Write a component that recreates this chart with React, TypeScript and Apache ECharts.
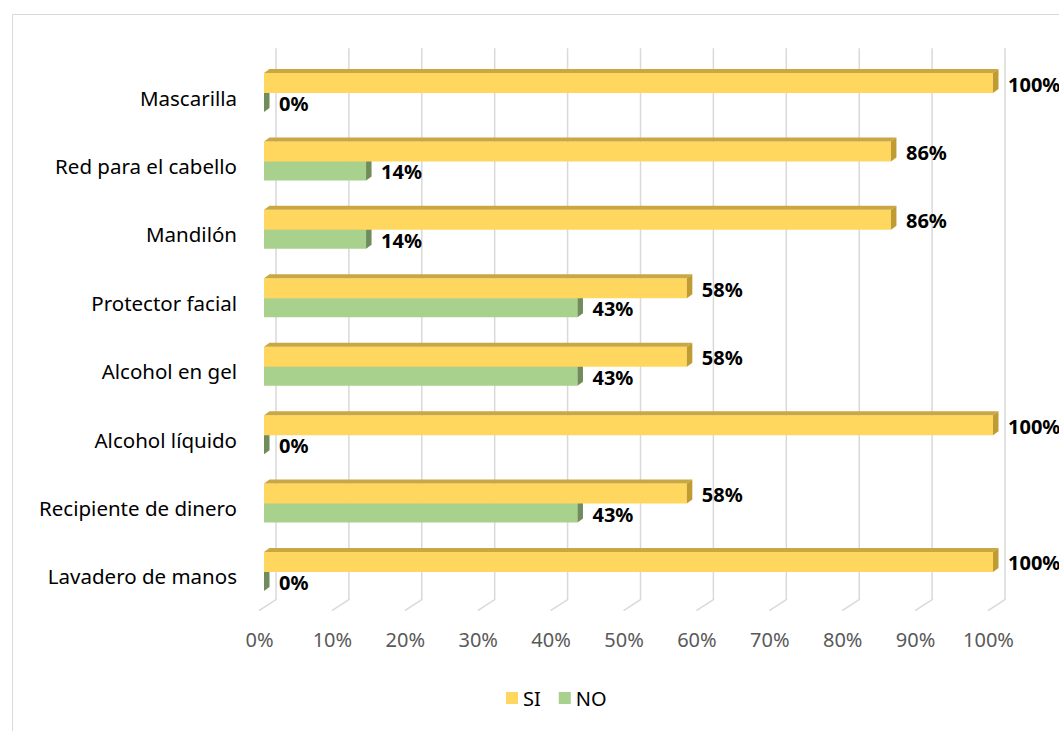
import React, { useEffect, useRef } from "react";
import * as echarts from "echarts";

const categories = [
  "Mascarilla",
  "Red para el cabello",
  "Mandilón",
  "Protector facial",
  "Alcohol en gel",
  "Alcohol líquido",
  "Recipiente de dinero",
  "Lavadero de manos",
];
const siValues = [100, 86, 86, 58, 58, 100, 58, 100];
const noValues = [0, 14, 14, 43, 43, 0, 43, 0];
const xTicks = [0, 10, 20, 30, 40, 50, 60, 70, 80, 90, 100];

const FONT = "'Noto Sans', 'Open Sans', sans-serif";
const DX = 5.5;
const DY = 4;

function barRenderer(front: string, topC: string, side: string, isTop: boolean) {
  return (params: any, api: any) => {
    const v = api.value(0);
    const c = api.value(1);
    const p0 = api.coord([0, c]);
    const p1 = api.coord([v, c]);
    const x0 = p0[0];
    const x1 = p1[0];
    const cy = p0[1];
    const top = isTop ? cy - 19.5 : cy + 0.5;
    const h = isTop ? 20 : 19;
    const bot = top + h;
    const children: any[] = [];
    if (x1 > x0) {
      children.push({
        type: "rect",
        shape: { x: x0, y: top, width: x1 - x0, height: h },
        style: { fill: front },
      });
    }
    children.push({
      type: "polygon",
      shape: { points: [[x0, top], [x0 + DX, top - DY], [x1 + DX, top - DY], [x1, top]] },
      style: { fill: topC },
    });
    children.push({
      type: "polygon",
      shape: { points: [[x1, top], [x1 + DX, top - DY], [x1 + DX, bot - DY], [x1, bot]] },
      style: { fill: side },
    });
    children.push({
      type: "text",
      x: x1 + 15,
      y: (top + bot) / 2 + 1,
      style: {
        text: v + "%",
        fill: "#000",
        font: "bold 20px " + FONT,
        align: "left",
        verticalAlign: "middle",
      },
    });
    if (isTop) {
      children.push({
        type: "text",
        x: x0 - 27,
        y: cy + 5,
        style: {
          text: categories[c],
          fill: "#000",
          font: "20.5px " + FONT,
          align: "right",
          verticalAlign: "middle",
        },
      });
    }
    return { type: "group", children };
  };
}

function gridRenderer(params: any, api: any) {
  const v = api.value(0);
  const p = api.coord([v, 0]);
  const cs = params.coordSys;
  const x = p[0];
  const topY = cs.y - 10;
  const floorBack = cs.y + cs.height - 6;
  const floorFront = floorBack + 11;
  return {
    type: "polyline",
    shape: { points: [[x + 12, topY], [x + 12, floorBack], [x - 5, floorFront]] },
    style: { stroke: "#d9d9d9", lineWidth: 1.5, fill: "none" },
  };
}

export default function App() {
  const ref = useRef<HTMLDivElement>(null);
  useEffect(() => {
    if (!ref.current) return;
    const chart = echarts.init(ref.current, undefined, { renderer: "svg" });
    chart.setOption({
      animation: false,
      backgroundColor: "#fff",
      graphic: [
        {
          type: "rect",
          left: 10,
          top: 12,
          shape: { width: 1120, height: 800 },
          style: { stroke: "#d9d9d9", fill: "none", lineWidth: 1 },
          z: -10,
        },
      ],
      legend: {
        data: ["SI", "NO"],
        left: 501,
        top: 683,
        icon: "rect",
        itemWidth: 12,
        itemHeight: 12,
        itemGap: 18,
        textStyle: { fontFamily: FONT, fontSize: 20, color: "#000" },
      },
      grid: { left: 264, right: 66, top: 58.3, bottom: 125.3, containLabel: false },
      xAxis: {
        type: "value",
        min: 0,
        max: 100,
        interval: 10,
        axisLine: { show: false },
        axisTick: { show: false },
        splitLine: { show: false },
        axisLabel: {
          formatter: "{value}%",
          color: "#595959",
          fontFamily: FONT,
          fontSize: 20,
          margin: 24,
          padding: [0, 9, 0, 0],
        },
      },
      yAxis: {
        type: "category",
        inverse: true,
        data: categories,
        axisLine: { show: false },
        axisTick: { show: false },
        axisLabel: { show: false },
      },
      series: [
        {
          type: "custom",
          name: "grid",
          silent: true,
          clip: false,
          z: 1,
          data: xTicks.map((t) => [t, 0]),
          encode: { x: 0, y: 1 },
          renderItem: gridRenderer,
        },
        {
          type: "custom",
          name: "NO",
          clip: false,
          z: 2,
          itemStyle: { color: "#a9d18e" },
          data: noValues.map((v, i) => [v, i]),
          encode: { x: 0, y: 1 },
          renderItem: barRenderer("#a9d18e", "#8aab72", "#6f8c5a", false),
        },
        {
          type: "custom",
          name: "SI",
          clip: false,
          z: 3,
          itemStyle: { color: "#ffd75e" },
          data: siValues.map((v, i) => [v, i]),
          encode: { x: 0, y: 1 },
          renderItem: barRenderer("#ffd75e", "#c9a742", "#bf9b33", true),
        },
      ],
    });
    return () => chart.dispose();
  }, []);
  return (
    <div
      ref={ref}
      style={{ position: "absolute", left: 0, top: 0, width: 1059, height: 731 }}
    />
  );
}
